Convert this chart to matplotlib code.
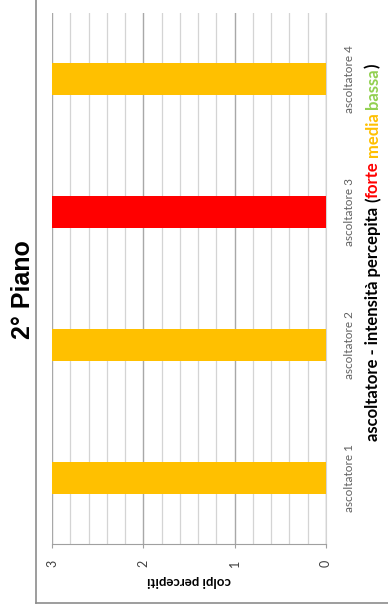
import matplotlib
matplotlib.use("Agg")
import matplotlib.pyplot as plt
from matplotlib.lines import Line2D

# data
listeners = ["ascoltatore 1", "ascoltatore 2", "ascoltatore 3", "ascoltatore 4"]
hits = [3, 3, 3, 3]
intensity = ["media", "media", "forte", "media"]
level_colors = {"forte": "#FF0000", "media": "#FFC000", "bassa": "#92D050"}
value_ticks = [0, 1, 2, 3]

W, H = 388, 607
fig = plt.figure(figsize=(W / 100, H / 100), dpi=100)
ax = fig.add_axes([52 / W, 1 - 544 / H, (326 - 52) / W, (544 - 13) / H])

pos = list(range(1, len(listeners) + 1))
ax.barh(pos, hits, height=0.24, color=[level_colors[i] for i in intensity], zorder=3)

ax.set_xlim(3, 0)
ax.set_ylim(0.5, len(listeners) + 0.5)
ax.set_xticks(value_ticks)
ax.set_xticks([i / 5 for i in range(16)], minor=True)
ax.grid(axis="x", which="minor", color="#d4d4d4", lw=0.9, zorder=0)
ax.grid(axis="x", which="major", color="#a8a8a8", lw=1.0, zorder=0)
ax.tick_params(axis="x", which="minor", length=0)
ax.tick_params(axis="x", which="major", length=3, color="#a0a0a0", labelrotation=90,
               labelsize=9, labelcolor="#404040", pad=8)
for t in ax.get_xticklabels():
    t.set_fontfamily("Lato")

ax.yaxis.tick_right()
ax.set_yticks(pos)
ax.set_yticklabels(listeners, rotation=90, va="center", fontsize=8.5,
                   color="#606060", fontfamily="Lato")
ax.tick_params(axis="y", length=0, pad=13)

for s in ["top", "left"]:
    ax.spines[s].set_visible(False)
ax.spines["bottom"].set_color("#a0a0a0")
ax.spines["right"].set_color("#d4d4d4")

ax.set_xlabel("colpi percepiti", rotation=180, fontsize=9.5, fontweight="bold",
              fontfamily="Lato", labelpad=6)

fig.text(23 / W, 1 - 290 / H, "2° Piano", rotation=90, ha="center", va="center",
         fontsize=18, fontweight="bold", fontfamily="Liberation Sans")

# multicoloured axis title, laid out piece by piece along the right side
pieces = [("ascoltatore - intensità percepita", "black"), (" ", "black"), ("(", "black"),
          ("forte", level_colors["forte"]), (" ", "black"),
          ("media", level_colors["media"]), (" ", "black"),
          ("bassa", level_colors["bassa"]), (")", "black")]
fig.canvas.draw()
r = fig.canvas.get_renderer()
texts = []
for s, c in pieces:
    t = fig.text(373 / W, 0, s, rotation=90, ha="center", va="bottom", color=c,
                 fontsize=12, fontweight="bold", fontfamily="Lato")
    texts.append(t)
sizes = [t.get_window_extent(r).height for t in texts]
y = (H - 252) - sum(sizes) / 2
for t, h in zip(texts, sizes):
    t.set_y(y / H)
    y += h

fig.add_artist(Line2D([36 / W, 36 / W], [1 - 603 / H, 1], color="#8c8c8c", lw=1.2))
fig.add_artist(Line2D([36 / W, 1], [1 - 603 / H, 1 - 603 / H], color="#8c8c8c", lw=1.2))

fig.savefig("out.png", dpi=100, facecolor="white")
